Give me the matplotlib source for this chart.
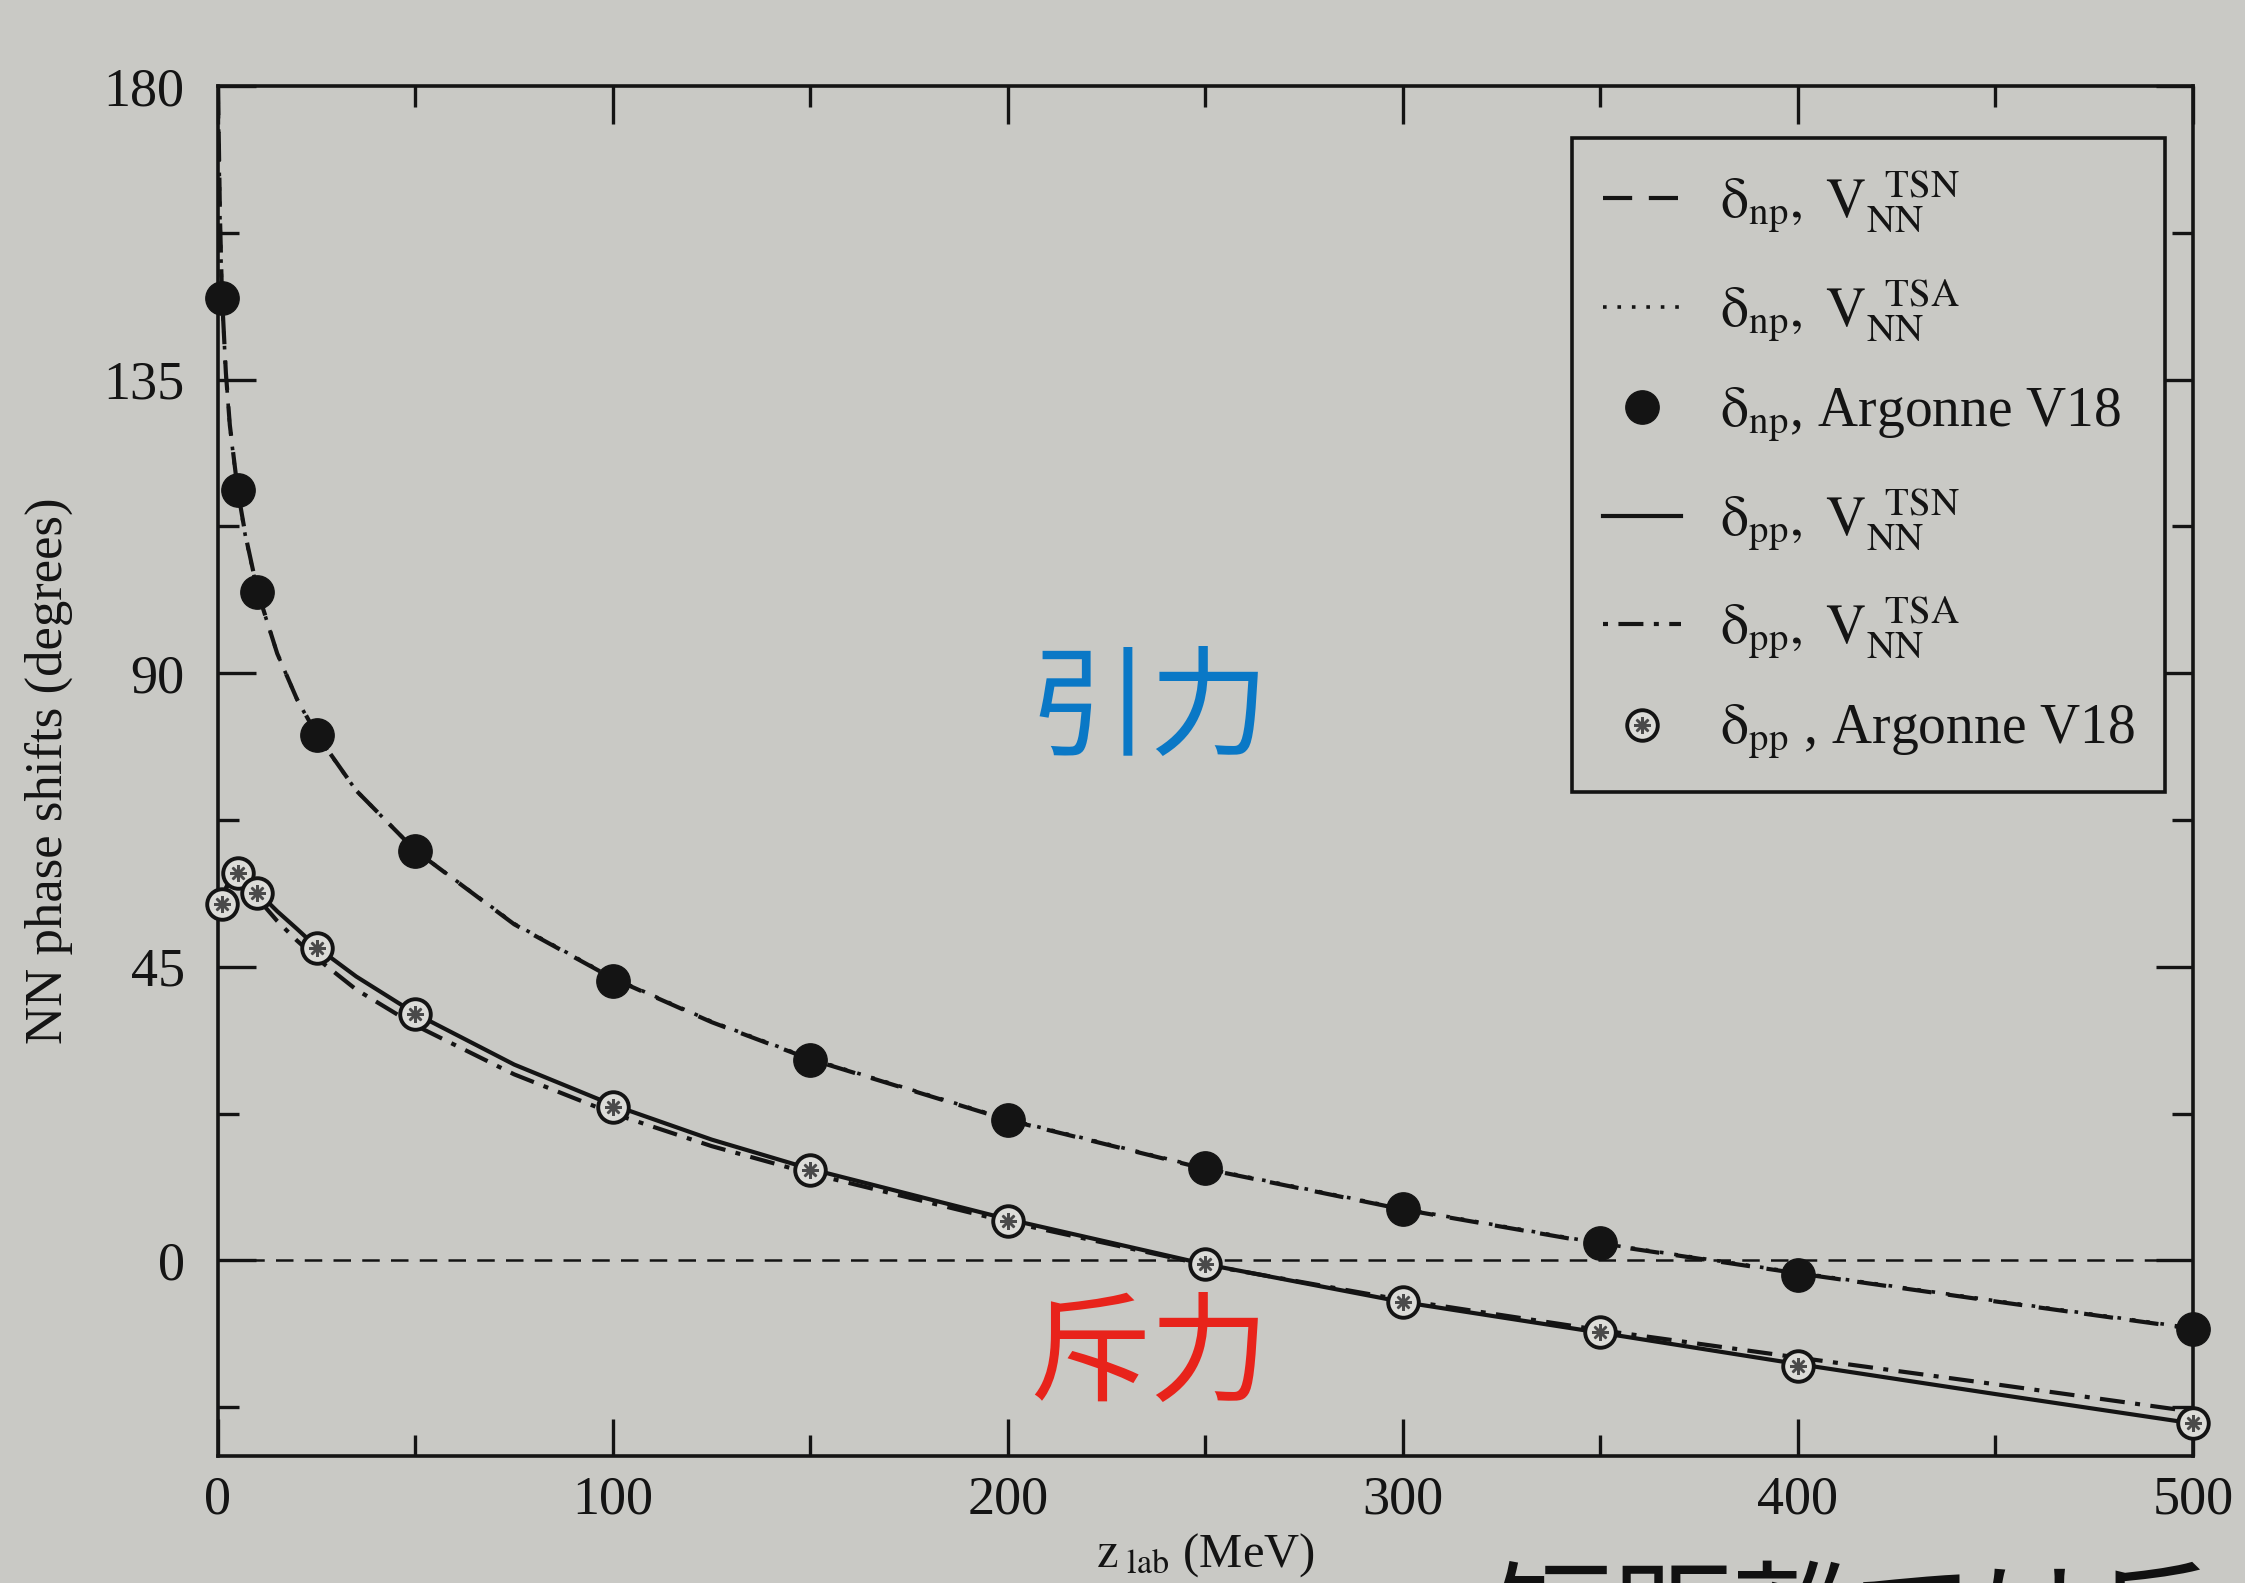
import matplotlib
matplotlib.use('Agg')
import matplotlib.pyplot as plt
from matplotlib.legend_handler import HandlerTuple

plt.rcParams['font.family'] = ['Liberation Serif', 'DejaVu Serif']
plt.rcParams['mathtext.fontset'] = 'stix'

# ---------------- data ----------------
# np curves (V_NN^TSN dashed, V_NN^TSA dotted)
x_np_curve = [0, 0.5, 1, 2, 3, 5, 7, 10, 15, 20, 25, 35, 50, 75, 100, 125, 150,
              200, 250, 300, 350, 400, 450, 500]
np_tsn = [180, 160, 148, 136, 128, 118, 111, 102.6, 93, 86, 80.6, 72, 62.8, 51.5,
          43.2, 36.5, 30.8, 21.5, 14.0, 7.8, 2.5, -2.0, -6.3, -10.5]
np_tsa = [180, 160, 147.8, 135.8, 127.8, 117.8, 110.8, 102.5, 93, 86, 80.5, 72, 62.8,
          51.6, 43.3, 36.6, 30.9, 21.6, 14.1, 7.9, 2.6, -1.9, -6.2, -10.4]

# pp curves (V_NN^TSN solid, V_NN^TSA dash-dot)
x_pp_curve = [1, 2, 3, 5, 7, 10, 15, 20, 25, 35, 50, 75, 100, 125, 150, 200, 250,
              300, 350, 400, 450, 500]
pp_tsn = [54.5, 57, 58.5, 59.3, 58.5, 56.5, 53.5, 50.8, 48.0, 43.5, 37.8, 30.0, 23.8,
          18.5, 14.0, 6.3, -0.6, -6.4, -11.1, -15.9, -20.5, -25.0]
pp_tsa = [54.5, 57, 58, 58.5, 57.5, 55.5, 52, 49, 46.3, 41.5, 36.0, 28.5, 22.5,
          17.5, 13.3, 5.9, -0.7, -6.1, -10.7, -14.9, -19.0, -23.2]

# Argonne V18 points
x_av18 = [1, 5, 10, 25, 50, 100, 150, 200, 250, 300, 350, 400, 500]
np_av18 = [147.5, 118, 102.5, 80.5, 62.7, 42.8, 30.7, 21.5, 14.2, 7.9, 2.7, -2.2, -10.5]
pp_av18 = [54.6, 59.3, 56.3, 47.8, 37.7, 23.5, 13.8, 6.0, -0.6, -6.4, -11.0, -16.2, -25.0]

x_ticks = [0, 100, 200, 300, 400, 500]
x_minor = [50, 150, 250, 350, 450]
y_ticks = [0, 45, 90, 135, 180]
y_minor = [-22.5, 22.5, 67.5, 112.5, 157.5]

labels = [r'$\mathrm{\delta_{np},\ V_{NN}^{\ \ TSN}}$',
          r'$\mathrm{\delta_{np},\ V_{NN}^{\ \ TSA}}$',
          r'$\mathrm{\delta_{np}}$, Argonne V18',
          r'$\mathrm{\delta_{pp},\ V_{NN}^{\ \ TSN}}$',
          r'$\mathrm{\delta_{pp},\ V_{NN}^{\ \ TSA}}$',
          r'$\mathrm{\delta_{pp}}$ , Argonne V18']

# ---------------- style ----------------
BG = '#c9c9c5'
INK = '#141414'

fig = plt.figure(figsize=(22.45, 15.83), dpi=100, facecolor=BG)
ax = fig.add_axes([0.0971, 0.0802, 0.8797, 0.8655], facecolor=BG)

ax.plot([0, 500], [0, 0], color=INK, lw=1.8, ls=(0, (7, 4.5)), zorder=1)

l_np_tsn, = ax.plot(x_np_curve, np_tsn, color=INK, lw=3.0, ls=(0, (7, 4)), zorder=3)
l_np_tsa, = ax.plot(x_np_curve, np_tsa, color=INK, lw=2.6, ls=(0, (1, 3)), zorder=2)
l_pp_tsn, = ax.plot(x_pp_curve, pp_tsn, color=INK, lw=3.0, ls='-', zorder=3)
l_pp_tsa, = ax.plot(x_pp_curve, pp_tsa, color=INK, lw=3.0, ls=(0, (1.2, 2.5, 6, 2.5)), zorder=2)

m_np, = ax.plot(x_av18, np_av18, ls='none', marker='o', ms=24, mfc=INK, mec=INK,
                clip_on=False, zorder=5)
m_pp, = ax.plot(x_av18, pp_av18, ls='none', marker='o', ms=22, mfc='#dcdcd8', mec=INK,
                mew=2.8, clip_on=False, zorder=5)
m_pp2, = ax.plot(x_av18, pp_av18, ls='none', marker=(8, 2, 0), ms=12, mec='#4a4a4a',
                 mew=1.8, clip_on=False, zorder=6)

ax.set_xlim(0, 500)
ax.set_ylim(-30, 180)
ax.set_xticks(x_ticks)
ax.set_xticks(x_minor, minor=True)
ax.set_yticks(y_ticks)
ax.set_yticks(y_minor, minor=True)
ax.set_xticklabels([str(v) for v in x_ticks])
ax.set_yticklabels([str(v) for v in y_ticks])
ax.tick_params(which='both', direction='in', top=True, right=True, width=2.4, color=INK,
               labelcolor=INK)
ax.tick_params(which='major', length=27, labelsize=39)
ax.tick_params(which='minor', length=15)
ax.tick_params(axis='x', pad=14)
ax.tick_params(axis='y', pad=24)
for s in ax.spines.values():
    s.set_linewidth(2.6)
    s.set_color(INK)

ax.set_xlabel(r'$\mathrm{z_{\ lab}}$ (MeV)', fontsize=35, color=INK, labelpad=4)
ax.set_ylabel('NN phase shifts (degrees)', fontsize=38, color=INK, labelpad=22)

leg = ax.legend([l_np_tsn, l_np_tsa, m_np, l_pp_tsn, l_pp_tsa, (m_pp, m_pp2)], labels,
                handler_map={tuple: HandlerTuple(ndivide=1, pad=0)},
                loc='upper right', bbox_to_anchor=(0.986, 0.962), borderaxespad=0,
                fontsize=40, frameon=True, fancybox=False, framealpha=1, facecolor=BG,
                edgecolor=INK, handlelength=1.4, handletextpad=0.7, labelspacing=0.76,
                borderpad=0.55, markerscale=1.0)
leg.get_frame().set_linewidth(2.6)
for t in leg.get_texts():
    t.set_color(INK)

ax.text(236, 84, '引力', fontsize=86, color='#0a78c6', ha='center', va='center',
        family=['Noto Sans CJK JP'], zorder=4)
ax.text(236, -15, '斥力', fontsize=86, color='#e8231b', ha='center', va='center',
        family=['Noto Sans CJK JP'], zorder=4)

fig.text(0.664, -0.05, '短距離では斥力', fontsize=87, color='#111111', ha='left',
         va='baseline', family=['Noto Sans CJK JP'])

fig.savefig('out.png', dpi=100, facecolor=BG)
